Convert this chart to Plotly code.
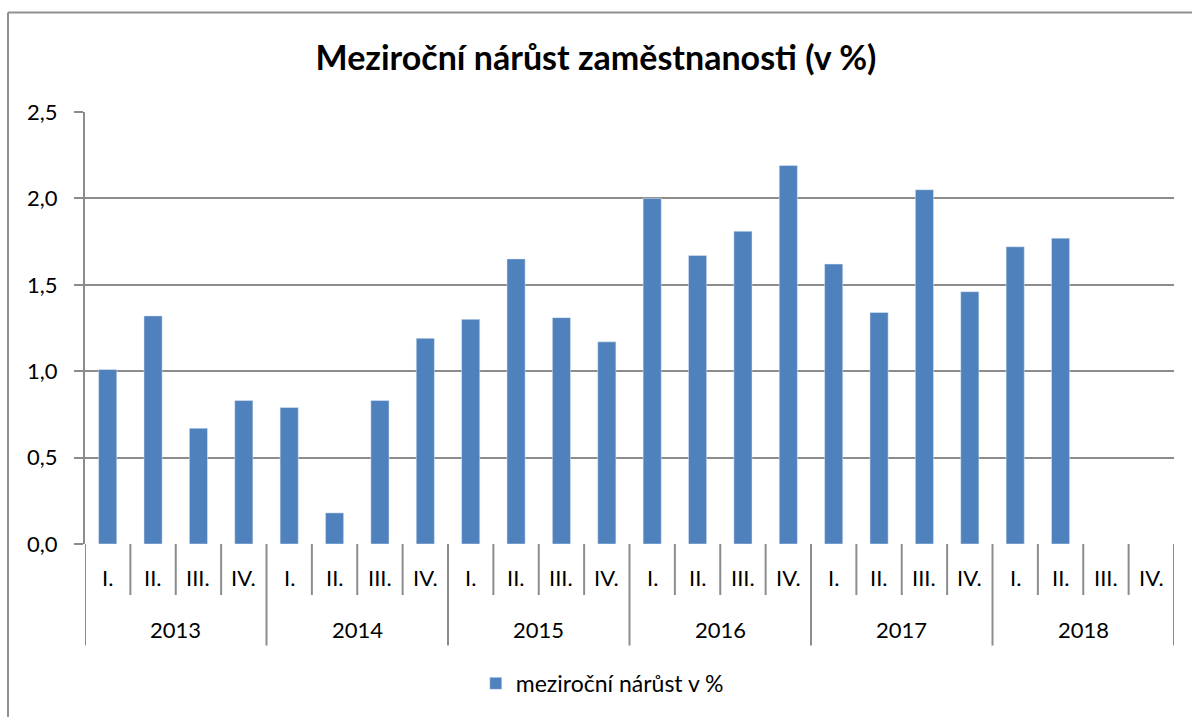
import plotly.graph_objects as go

years = ["2013", "2014", "2015", "2016", "2017", "2018"]
quarters = ["I.", "II.", "III.", "IV."]
values = [1.01, 1.32, 0.67, 0.83,
          0.79, 0.18, 0.83, 1.19,
          1.30, 1.65, 1.31, 1.17,
          2.00, 1.67, 1.81, 2.19,
          1.62, 1.34, 2.05, 1.46,
          1.72, 1.77, None, None]
series_name = "meziroční nárůst v %"
title = "Meziroční nárůst zaměstnanosti (v %)"
yticks = [0, 0.5, 1.0, 1.5, 2.0, 2.5]

FONT = "Lato, 'Open Sans', sans-serif"
GRID = "#8c8c8c"
n = len(years) * len(quarters)
xs = list(range(n))

fig = go.Figure()
fig.add_trace(go.Bar(x=xs, y=values, name=series_name, marker_color="#4F81BD",
                     width=0.4, showlegend=True))

shapes = []
annotations = []
for i in range(n):
    annotations.append(dict(x=i, y=-0.078, xref="x", yref="paper", text=quarters[i % 4],
                            showarrow=False, font=dict(size=22, color="black", family=FONT),
                            yanchor="middle"))
for b in range(n + 1):
    is_year = b % 4 == 0
    y1 = -0.235 if is_year else -0.118
    shapes.append(dict(type="line", xref="x", yref="paper", x0=b - 0.5, x1=b - 0.5,
                       y0=0, y1=y1, line=dict(color=GRID, width=2)))
for k, yr in enumerate(years):
    annotations.append(dict(x=k * 4 + 1.5, y=-0.198, xref="x", yref="paper", text=yr,
                            showarrow=False, font=dict(size=22, color="black", family=FONT),
                            yanchor="middle"))
# outer chart border (left and top)
shapes.append(dict(type="line", xref="paper", yref="paper", x0=-0.0707, x1=-0.0707,
                   y0=1.2304, y1=-0.5, line=dict(color="#909090", width=2)))
shapes.append(dict(type="line", xref="paper", yref="paper", x0=-0.0707, x1=1.05,
                   y0=1.2304, y1=1.2304, line=dict(color="#909090", width=2)))

fig.update_layout(
    width=1192, height=717,
    margin=dict(l=85, r=18, t=112, b=171),
    paper_bgcolor="white", plot_bgcolor="white",
    title=dict(text=title, x=0.5, xanchor="center", y=0.919, yanchor="middle",
               font=dict(size=34, color="black", family=FONT, weight="bold")),
    xaxis=dict(range=[-0.5, n - 0.5], showticklabels=False, showgrid=False,
               zeroline=False, showline=False, ticks=""),
    yaxis=dict(range=[0, 2.5], tickvals=yticks,
               ticktext=[f"{v:.1f}".replace(".", ",") for v in yticks],
               showgrid=True, gridcolor=GRID, gridwidth=2, zeroline=False,
               showline=True, linecolor=GRID, linewidth=2,
               ticks="outside", ticklen=9, tickcolor=GRID, tickwidth=2,
               ticklabelstandoff=12,
               tickfont=dict(size=22, color="black", family=FONT)),
    legend=dict(orientation="h", x=0.475, xanchor="center", y=-0.3226, yanchor="middle",
                font=dict(size=23, color="black", family=FONT)),
    shapes=shapes, annotations=annotations,
    bargap=0.6,
)
fig.write_html("out.html", config={"displayModeBar": False},
               post_script="document.body.style.margin='0';document.body.style.overflow='hidden';")
